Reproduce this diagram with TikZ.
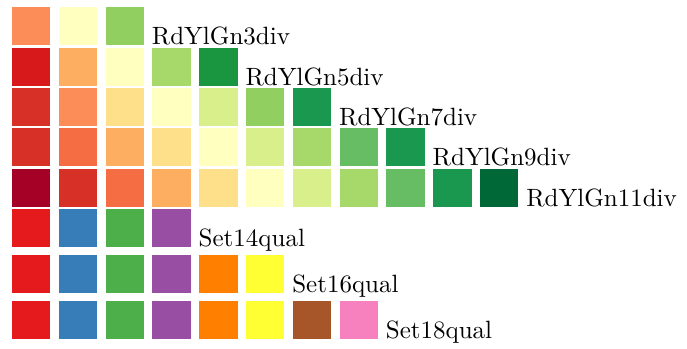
\documentclass[tikz,border=0pt]{standalone}
\begin{document}
\begin{tikzpicture}[x=0.4pt,y=-0.4pt,
  sq/.style={minimum size=15.32pt, inner sep=0pt, outer sep=0pt, anchor=north west, draw=none},
  lab/.style={anchor=base west, inner sep=0pt, xshift=3.0pt, yshift=0.3pt}]
\useasboundingbox (0,0) rectangle (687,348);
\foreach \r/\y/\n/\lab/\cl in {
  1/6.8/3/RdYlGn3div/{FC8D59,FFFFBF,91CF60},
  2/47.8/5/RdYlGn5div/{D7191C,FDAE61,FFFFBF,A6D96A,1A9641},
  3/88/7/RdYlGn7div/{D73027,FC8D59,FEE08B,FFFFBF,D9EF8B,91CF60,1A9850},
  4/128/9/RdYlGn9div/{D73027,F46D43,FDAE61,FEE08B,FFFFBF,D9EF8B,A6D96A,66BD63,1A9850},
  5/169/11/RdYlGn11div/{A50026,D73027,F46D43,FDAE61,FEE08B,FFFFBF,D9EF8B,A6D96A,66BD63,1A9850,006837},
  6/209/4/Set14qual/{E41A1C,377EB8,4DAF4A,984EA3},
  7/255/6/Set16qual/{E41A1C,377EB8,4DAF4A,984EA3,FF7F00,FFFF33},
  8/301/8/Set18qual/{E41A1C,377EB8,4DAF4A,984EA3,FF7F00,FFFF33,A65628,F781BF}} {
  \foreach \c [count=\i] in \cl {
    \definecolor{c\c}{HTML}{\c}
    \node[sq, fill=c\c] (s\r-\i) at ({12+46.8*(\i-1)},\y) {};
  }
  \node[lab] (lab\r) at (s\r-\n.south east) {\lab};
}
\end{tikzpicture}
\end{document}
